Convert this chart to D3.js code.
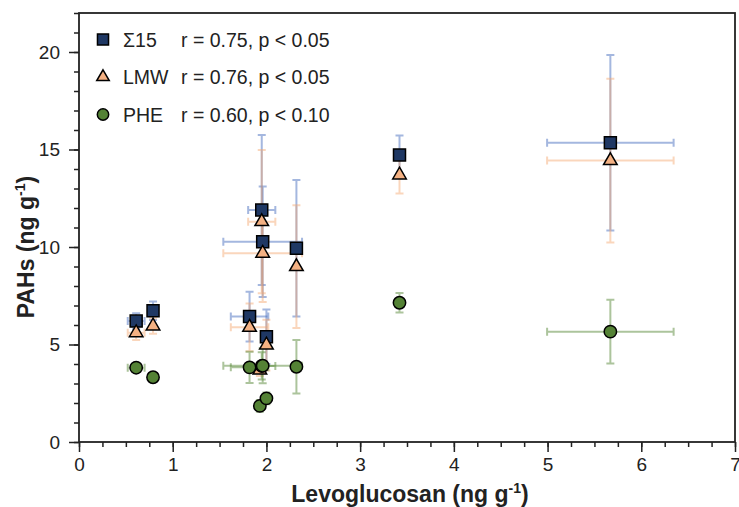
<!DOCTYPE html>
<html>
<head>
<meta charset="utf-8">
<script src="https://cdn.jsdelivr.net/npm/d3@7.9.0/dist/d3.min.js"></script>
<style>
  body { margin: 0; background: #fff; }
  svg text { font-family: "Liberation Sans", Arial, sans-serif; fill: #222; }
</style>
</head>
<body>
<svg id="chart" width="739" height="507"></svg>
<script>
// values (null = not visible)
const levo     = [0.61, 0.79, 1.82, 1.95, 1.96, 1.93, 2.00, 2.32, 3.42, 5.67];
const levoErr  = [0.09, 0,    0.20, 0.145, 0.42, 0,   0,    0,    0,    0.675];
const sum15    = [6.20, 6.73, 6.43, 11.90, 10.27, null, 5.40, 9.93, 14.72, 15.35];
const sum15Err = [0.40, 0.47, 1.27, 3.85, 2.83, 0,    1.40, 3.50, 1.00, 4.50];
const lmw      = [5.60, 5.95, 5.88, 11.30, 9.68, 3.69, 4.97, 8.99, 13.69, 14.43];
const lmwErr   = [0.37, 0.40, 1.22, 3.67, 2.50, 0.30, 1.30, 3.15, 0.95, 4.20];
const phe      = [3.81, 3.32, 3.83, 3.90, 3.91, 1.85, 2.24, 3.86, 7.14, 5.66];
const pheErr   = [0.15, 0.10, 0.80, 0.70, 0.90, 0.30, 0.30, 1.37, 0.50, 1.63];

const seriesNames = ['Σ15', 'LMW', 'PHE'];
const seriesStats = ['r = 0.75, p < 0.05', 'r = 0.76, p < 0.05', 'r = 0.60, p < 0.10'];
const xTicks = [0, 1, 2, 3, 4, 5, 6, 7];
const yTicks = [0, 5, 10, 15, 20];

const series = [
  { name: seriesNames[0], stat: seriesStats[0], y: sum15, err: sum15Err,
    shape: d3.symbolSquare, size: 144, fill: '#1f3864', bar: '#4a6fbf', barOp: 0.5 },
  { name: seriesNames[1], stat: seriesStats[1], y: lmw, err: lmwErr,
    shape: d3.symbolTriangle, size: 80, fill: '#f4b183', bar: '#f4a46a', barOp: 0.45 },
  { name: seriesNames[2], stat: seriesStats[2], y: phe, err: pheErr,
    shape: d3.symbolCircle, size: 120, fill: '#548235', bar: '#5a8a3a', barOp: 0.5 }
];

const svg = d3.select('#chart');
const mLeft = 79, mRight = 735, mTop = 13, mBottom = 442;

const x = d3.scaleLinear().domain([0, 7]).range([mLeft, mRight]);
const y = d3.scaleLinear().domain([0, 22]).range([mBottom, mTop]);

// minor ticks
svg.append('g').attr('transform', `translate(0,${mBottom})`)
  .call(d3.axisBottom(x).tickValues(d3.range(0, 7.001, 0.25)).tickSize(5).tickFormat(''))
  .call(g => g.select('.domain').remove());
svg.append('g').attr('transform', `translate(${mLeft},0)`)
  .call(d3.axisLeft(y).tickValues(d3.range(0, 22.001, 1)).tickSize(5).tickFormat(''))
  .call(g => g.select('.domain').remove());

// major ticks
const xAxis = svg.append('g').attr('transform', `translate(0,${mBottom})`)
  .call(d3.axisBottom(x).tickValues(xTicks).tickFormat(d3.format('d')).tickSize(10).tickPadding(6));
const yAxis = svg.append('g').attr('transform', `translate(${mLeft},0)`)
  .call(d3.axisLeft(y).tickValues(yTicks).tickFormat(d3.format('d')).tickSize(10).tickPadding(9));
[xAxis, yAxis].forEach(g => {
  g.select('.domain').remove();
  g.selectAll('text').style('font-size', '19px').attr('fill', '#222');
});
svg.selectAll('.tick line').attr('stroke', '#222').attr('stroke-width', 1.5);

// frame
svg.append('rect')
  .attr('x', mLeft).attr('y', mTop)
  .attr('width', mRight - mLeft).attr('height', mBottom - mTop)
  .attr('fill', 'none').attr('stroke', '#222').attr('stroke-width', 1.8);

// error bars
const cap = 4;
series.forEach(s => {
  const g = svg.append('g')
    .attr('stroke', s.bar).attr('stroke-opacity', s.barOp)
    .attr('stroke-width', 2).attr('fill', 'none');
  levo.forEach((lv, i) => {
    if (s.y[i] == null) return;
    const cx = x(lv), cy = y(s.y[i]);
    if (s.err[i] > 0) {
      const y0 = y(s.y[i] - s.err[i]), y1 = y(s.y[i] + s.err[i]);
      g.append('path').attr('d',
        `M${cx},${y0}V${y1}M${cx - cap},${y0}H${cx + cap}M${cx - cap},${y1}H${cx + cap}`);
    }
    if (levoErr[i] > 0) {
      const x0 = x(lv - levoErr[i]), x1 = x(lv + levoErr[i]);
      g.append('path').attr('d',
        `M${x0},${cy}H${x1}M${x0},${cy - cap}V${cy + cap}M${x1},${cy - cap}V${cy + cap}`);
    }
  });
});

// markers
series.forEach(s => {
  const sym = d3.symbol().type(s.shape).size(s.size);
  const pts = levo.map((lv, i) => [lv, s.y[i]]).filter(p => p[1] != null);
  svg.append('g').selectAll('path')
    .data(pts)
    .join('path')
    .attr('d', sym)
    .attr('transform', d => `translate(${x(d[0])},${y(d[1])})`)
    .attr('fill', s.fill).attr('stroke', '#000').attr('stroke-width', 1.5);
});

// legend
const legend = svg.append('g');
series.forEach((s, i) => {
  const ly = 39.5 + i * 37.5;
  legend.append('path')
    .attr('d', d3.symbol().type(s.shape).size(s.size * 0.85)())
    .attr('transform', `translate(103,${ly})`)
    .attr('fill', s.fill).attr('stroke', '#000').attr('stroke-width', 1.5);
  legend.append('text').attr('x', 123).attr('y', ly).attr('dy', '0.36em')
    .style('font-size', '19.5px').text(s.name);
  legend.append('text').attr('x', 181).attr('y', ly).attr('dy', '0.36em')
    .style('font-size', '19.5px').text(s.stat);
});

// axis titles
const xt = svg.append('text')
  .attr('x', 410).attr('y', 502)
  .attr('text-anchor', 'middle')
  .style('font-size', '23px').style('font-weight', 'bold');
xt.append('tspan').text('Levoglucosan (ng g');
xt.append('tspan').attr('dy', -9).style('font-size', '14px').text('-1');
xt.append('tspan').attr('dy', 9).text(')');

const yt = svg.append('text')
  .attr('transform', `translate(34,247) rotate(-90)`)
  .attr('text-anchor', 'middle')
  .style('font-size', '23px').style('font-weight', 'bold');
yt.append('tspan').text('PAHs (ng g');
yt.append('tspan').attr('dy', -9).style('font-size', '14px').text('-1');
yt.append('tspan').attr('dy', 9).text(')');
</script>
</body>
</html>
